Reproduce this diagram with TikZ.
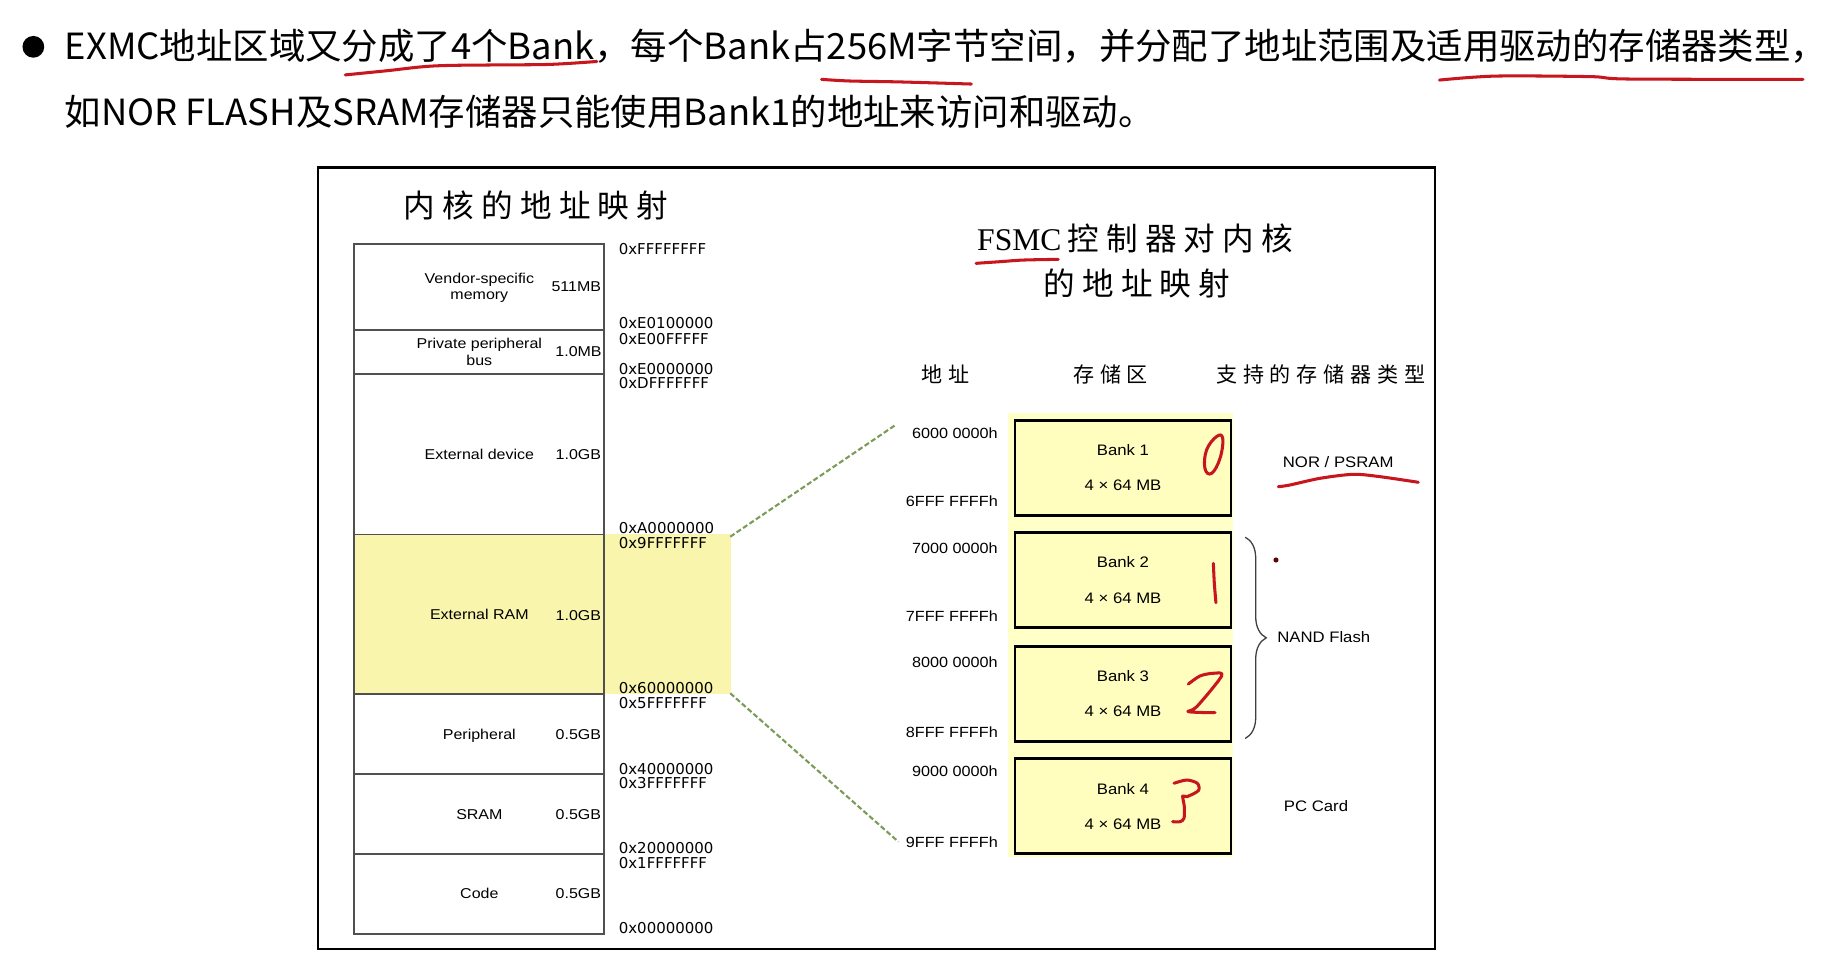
\documentclass[tikz,border=0pt]{standalone}
\usepackage{fontspec}
\usetikzlibrary{decorations.pathreplacing}

\newfontfamily\cjkfont{Noto Sans CJK SC}
\newfontfamily\hdrfont[FakeStretch=1.01]{Noto Sans CJK SC}
\newfontfamily\lblfont[FakeStretch=1.1]{Liberation Sans}
\newfontfamily\memfont[FakeStretch=1.12]{Liberation Sans}
\newfontfamily\addrfont{DejaVu Sans}
\newfontfamily\seriffont{Liberation Serif}

\definecolor{ramyellow}{RGB}{249,245,172}
\definecolor{bankbg}{RGB}{255,255,200}
\definecolor{bankfill}{RGB}{255,254,190}
\definecolor{zoomgreen}{RGB}{123,155,88}
\definecolor{penred}{RGB}{200,22,30}
\definecolor{colgray}{RGB}{80,80,80}

% letter-spaced text: #1 = gap between characters, #2 = characters
\makeatletter
\newcommand\tracked[2]{\begingroup\def\trk@sep{}\@tfor\trk@c:=#2\do{\trk@sep\trk@c\def\trk@sep{\hspace{#1}}}\endgroup}
\makeatother

\begin{document}
\begin{tikzpicture}[x=0.5pt,y=-0.5pt,
  hdr/.style={font=\hdrfont\fontsize{15.4}{18}\selectfont, inner sep=0pt, text height=12.3pt, text depth=1.2pt, anchor=west},
  ttl/.style={font=\cjkfont\fontsize{13.5}{16}\selectfont, inner sep=0pt, text height=10.8pt, text depth=1pt},
  colhead/.style={font=\cjkfont\fontsize{9}{11}\selectfont, inner sep=0pt, text height=7.2pt, text depth=0.7pt},
  memlbl/.style={font=\memfont\fontsize{6.1}{7.1}\selectfont, inner sep=0pt, text height=4.37pt, text depth=0pt},
  memlbltwo/.style={font=\memfont\fontsize{6.1}{7.1}\selectfont, inner sep=0pt, align=center},
  memsize/.style={memlbl, anchor=east},
  addr/.style={font=\addrfont\fontsize{6.4}{7.5}\selectfont, inner sep=0pt, text height=4.67pt, text depth=0pt, anchor=west},
  bankaddr/.style={font=\lblfont\fontsize{6.3}{7.5}\selectfont, inner sep=0pt, text height=4.5pt, text depth=0pt, anchor=east},
  bankbox/.style={draw=black, line width=1.2pt, fill=bankfill, minimum width=92.35pt, minimum height=40.5pt,
    align=center, font=\lblfont\fontsize{6.5}{15}\selectfont, inner sep=0pt},
  typelbl/.style={font=\lblfont\fontsize{6.5}{8}\selectfont, inner sep=0pt, text height=4.65pt, text depth=0pt},
  frameline/.style={draw=black, line width=1pt},
  colline/.style={draw=colgray, line width=0.6pt},
  zoomline/.style={draw=zoomgreen, line width=0.9pt, dash pattern=on 2.2pt off 1.1pt},
  pen/.style={draw=penred, line width=1.3pt, line cap=round, line join=round},
  bracestyle/.style={draw=black!75, line width=0.55pt, decorate, decoration={brace, amplitude=9pt}}
]
\useasboundingbox (0,0) rectangle (1568,816);
\fill[white] (0,0) rectangle (1568,816);

% ---------- heading bullet ----------
\node[circle, fill=black, minimum size=9.3pt, inner sep=0pt] (bullet) at (28.5,40) {};
\node[hdr] (line1) at (55,40) {EXMC地址区域又分成了4个Bank，每个Bank占256M字节空间，并分配了地址范围及适用驱动的存储器类型，};
\node[hdr] (line2) at (55,96) {如NOR FLASH及SRAM存储器只能使用Bank1的地址来访问和驱动。};

% ---------- outer frame ----------
\draw[frameline] (271.5,143) rectangle (1226,811);

% ---------- core address map ----------
\node[ttl] (ltitle) at (458,176) {\tracked{3.1pt}{内核的地址映射}};

\fill[ramyellow] (302.6,456.5) rectangle (625,593);
\draw[colline] (302.6,208.5) rectangle (516,798);
\foreach \yy in {282,319.6,456.5,593,661.5,729.8}
  \draw[colline] (302.6,\yy) -- (516,\yy);

\node[memlbltwo] (vendor) at (409.6,246) {Vendor-specific\\memory};
\node[memsize] (vendorsz) at (514,245) {511MB};
\node[memlbltwo] (ppb) at (409.6,300.5) {Private peripheral\\bus};
\node[memsize] (ppbsz) at (514.5,300.5) {1.0MB};
\node[memlbl] (extdev) at (409.6,388.2) {External device};
\node[memsize] (extdevsz) at (514,388.2) {1.0GB};
\node[memlbl] (extram) at (409.6,524.7) {External RAM};
\node[memsize] (extramsz) at (514,526) {1.0GB};
\node[memlbl] (periph) at (409.6,627.2) {Peripheral};
\node[memsize] (periphsz) at (514,627.2) {0.5GB};
\node[memlbl] (sram) at (409.6,695.6) {SRAM};
\node[memsize] (sramsz) at (514,695.6) {0.5GB};
\node[memlbl] (code) at (409.6,763.4) {Code};
\node[memsize] (codesz) at (514,763.4) {0.5GB};

\node[addr] (a1) at (528.4,213) {0xFFFFFFFF};
\node[addr] (a2) at (528.4,276.3) {0xE0100000};
\node[addr] (a3) at (528.4,290) {0xE00FFFFF};
\node[addr] (a4) at (528.4,315.3) {0xE0000000};
\node[addr] (a5) at (528.4,327.6) {0xDFFFFFFF};
\node[addr] (a6) at (528.4,451.5) {0xA0000000};
\node[addr] (a7) at (528.4,464.3) {0x9FFFFFFF};
\node[addr] (a8) at (528.4,588.2) {0x60000000};
\node[addr] (a9) at (528.4,601) {0x5FFFFFFF};
\node[addr] (a10) at (528.4,657.1) {0x40000000};
\node[addr] (a11) at (528.4,669.3) {0x3FFFFFFF};
\node[addr] (a12) at (528.4,725) {0x20000000};
\node[addr] (a13) at (528.4,737.2) {0x1FFFFFFF};
\node[addr] (a14) at (528.4,793.2) {0x00000000};

% ---------- FSMC address map ----------
\node[ttl, anchor=west] (rtitle1) at (834.6,204) {{\seriffont FSMC}\hspace{2.5pt}\tracked{3.1pt}{控制器对内核}};
\node[ttl] (rtitle2) at (971.4,242.7) {\tracked{3.1pt}{的地址映射}};

\node[colhead] (hAddr) at (808,320) {\tracked{2.5pt}{地址}};
\node[colhead] (hBank) at (949,320) {\tracked{2.5pt}{存储区}};
\node[colhead] (hType) at (1128.7,320) {\tracked{2.5pt}{支持的存储器类型}};

\fill[bankbg] (861,352.6) rectangle (1053.6,732);
\node[bankbox] (bank1) at (959.6,399.7) {Bank 1\\4 × 64 MB};
\node[bankbox] (bank2) at (959.6,495.6) {Bank 2\\4 × 64 MB};
\node[bankbox] (bank3) at (959.6,592.9) {Bank 3\\4 × 64 MB};
\node[bankbox] (bank4) at (959.6,688.9) {Bank 4\\4 × 64 MB};

\node[bankaddr] (b1s) at (853,370.3) {6000 0000h};
\node[bankaddr] (b1e) at (853,428.1) {6FFF FFFFh};
\node[bankaddr] (b2s) at (853,468.5) {7000 0000h};
\node[bankaddr] (b2e) at (853,526.4) {7FFF FFFFh};
\node[bankaddr] (b3s) at (853,566) {8000 0000h};
\node[bankaddr] (b3e) at (853,626) {8FFF FFFFh};
\node[bankaddr] (b4s) at (853,659.4) {9000 0000h};
\node[bankaddr] (b4e) at (853,720) {9FFF FFFFh};

% zoom lines from the External RAM region to the bank addresses
\coordinate (ramtop) at (624,458.6);
\coordinate (rambot) at (624,592.4);
\coordinate (bankstart) at (765.4,363);
\coordinate (bankend) at (767.6,719.2);
\draw[zoomline] (ramtop) -- (bankstart);
\draw[zoomline] (rambot) -- (bankend);

% memory types
\node[typelbl] (nor) at (1143.5,394.5) {NOR / PSRAM};
\coordinate (braceTop) at (1064,459);
\coordinate (braceBot) at (1064,631);
\draw[bracestyle] (braceTop) -- (braceBot);
\node[typelbl, anchor=west] (nand) at (1091,544.3) {NAND Flash};
\node[typelbl] (pccard) at (1124.5,688.4) {PC Card};
\fill[black!40!penred!70!black] (1090.3,478.5) circle (1.1pt);

% ---------- hand-written red marks ----------
\draw[pen] plot[smooth, tension=0.6] coordinates {(295,64) (330,60.5) (370,56.4) (420,55.5) (470,55) (510,52.5)};
\draw[pen] plot[smooth] coordinates {(702,67.8) (726,69.2) (769,70) (830,71.8)};
\draw[pen] plot[smooth] coordinates {(1230,68.4) (1278,65) (1360,65.5) (1390.7,67.5) (1540.7,67.8)};
\draw[pen] plot[smooth] coordinates {(834,225) (854.5,223.6) (874.4,222.2) (904.3,221.6)};
\draw[pen] plot[smooth] coordinates {(1092.3,415.9) (1102.3,414.4) (1128,408.7) (1156.4,405.3) (1179.2,407.3) (1211.9,412.1)};
\draw[pen] plot[smooth cycle, tension=0.7] coordinates {(1031,384.5) (1039.6,373) (1044.8,374.5) (1042.5,391.6) (1035.3,404.5) (1029.6,400.2)};
\draw[pen] plot[smooth] coordinates {(1036.8,481.4) (1037.6,498) (1039,515)};
\draw[pen] plot[smooth, tension=0.5] coordinates {(1015.4,584.5) (1025.4,577.6) (1036.8,575.3) (1043.9,577.6) (1022.6,603.9) (1015.4,608.1) (1038.2,609)};
\draw[pen] plot[smooth, tension=0.5] coordinates {(1003.2,669.3) (1014,666.5) (1023.1,669.3) (1024,675.6) (1014,680.8) (1010.6,680.2) (1012,689.3) (1011.7,699.2) (1008.3,702.1) (1002,702.1)};
\end{tikzpicture}
\end{document}
